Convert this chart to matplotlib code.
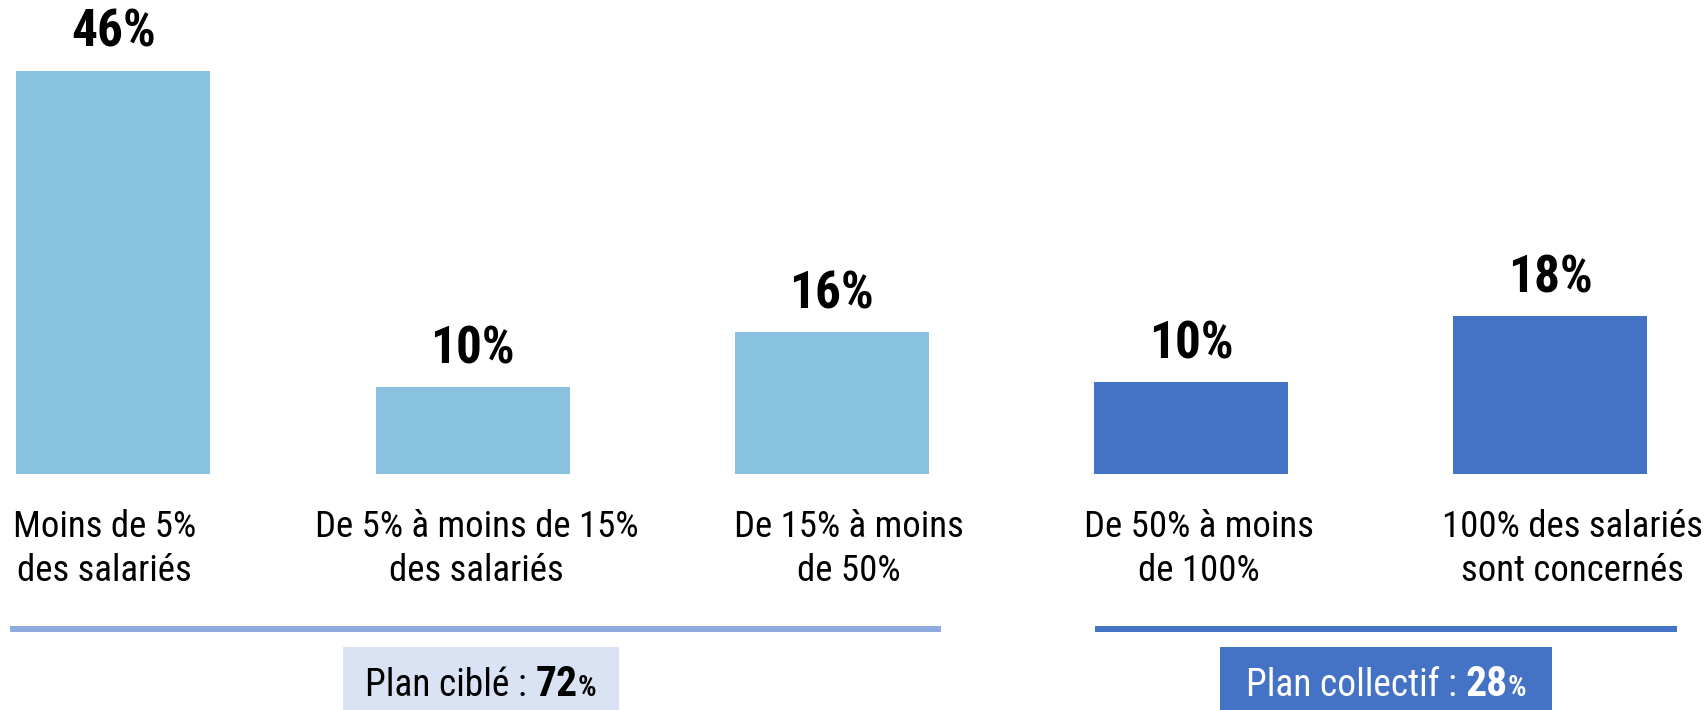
import matplotlib
matplotlib.use("Agg")
import matplotlib.pyplot as plt
from matplotlib import font_manager
from matplotlib.patches import Rectangle
from matplotlib.lines import Line2D
from matplotlib.transforms import blended_transform_factory
from matplotlib.offsetbox import TextArea, HPacker, AnnotationBbox

# ---- data ----
categories = [
    "Moins de 5%\ndes salariés",
    "De 5% à moins de 15%\ndes salariés",
    "De 15% à moins\nde 50%",
    "De 50% à moins\nde 100%",
    "100% des salariés\nsont concernés",
]
values = [46.0, 9.9, 16.2, 10.45, 18.0]
value_labels = ["46%", "10%", "16%", "10%", "18%"]
groups = ["Plan ciblé", "Plan collectif"]
group_totals = ["72", "28"]
group_members = [[0, 1, 2], [3, 4]]

# ---- style ----
names = {f.name for f in font_manager.fontManager.ttflist}
FONT = [n for n in ["Liberation Sans Narrow", "Roboto Condensed", "Liberation Sans"] if n in names] + ["DejaVu Sans"]
plt.rcParams["font.family"] = FONT

LIGHT = "#89C1E0"
DARK = "#4472C4"
bar_colors = [LIGHT, LIGHT, LIGHT, DARK, DARK]
line_colors = ["#8FAADC", "#4472C4"]
box_colors = ["#DAE3F3", "#4472C4"]
box_text_colors = ["black", "white"]

W, H = 1706, 710
fig = plt.figure(figsize=(W / 100, H / 100), dpi=100)
fig.patch.set_facecolor("white")

step = 359.3
first_c = 113.2
base_px = 474.0
ppu = 8.761
ax = fig.add_axes([0, 1 - base_px / H, 1, base_px / H])
ax.set_xlim(-first_c / step, (W - first_c) / step)
ax.set_ylim(0, base_px / ppu)
ax.axis("off")

xs = list(range(len(values)))
bars = ax.bar(xs, values, width=194 / step, color=bar_colors, zorder=2)

for x, v, lab in zip(xs, values, value_labels):
    ax.annotate(lab, (x, v), xytext=(0, 17.3), textcoords="offset points",
                ha="center", va="baseline", fontsize=37, fontweight="bold",
                color="black")

# category labels (below bars)
tr = blended_transform_factory(ax.transData, fig.transFigure)
label_off_px = [-9, 4, 17, 8, 22]
line_base = [537, 581]
for x, cat, off in zip(xs, categories, label_off_px):
    for k, line in enumerate(cat.split("\n")):
        ax.text(x + off / step, 1 - line_base[k] / H, line, transform=tr,
                ha="center", va="baseline", fontsize=26.5, color="black",
                clip_on=False)

# group lines
line_px = [(10, 941), (1095, 1677)]
line_y = 629
for (x0, x1), c in zip(line_px, line_colors):
    fig.add_artist(Line2D([x0 / W, x1 / W], [1 - line_y / H] * 2,
                          transform=fig.transFigure, color=c, lw=4.3,
                          solid_capstyle="butt"))

# group boxes
box_px = [(343, 619), (1220, 1552)]
box_top, box_bot = 647, 710
for (x0, x1), bc, tc, g, tot in zip(box_px, box_colors, box_text_colors,
                                    groups, group_totals):
    fig.add_artist(Rectangle((x0 / W, 1 - box_bot / H), (x1 - x0) / W,
                             (box_bot - box_top) / H, transform=fig.transFigure,
                             facecolor=bc, edgecolor="none"))
    parts = [
        TextArea(g + " : ", textprops=dict(fontsize=27, color=tc, family=FONT)),
        TextArea(tot, textprops=dict(fontsize=30, color=tc, fontweight="bold", family=FONT)),
        TextArea("%", textprops=dict(fontsize=21, color=tc, fontweight="bold", family=FONT)),
    ]
    pack = HPacker(children=parts, align="baseline", pad=0, sep=0)
    ab = AnnotationBbox(pack, ((x0 + x1) / 2 / W, 1 - 684 / H),
                        xycoords="figure fraction", frameon=False,
                        box_alignment=(0.5, 0.5), pad=0)
    fig.add_artist(ab)

fig.savefig("out.png", dpi=100, facecolor="white")
